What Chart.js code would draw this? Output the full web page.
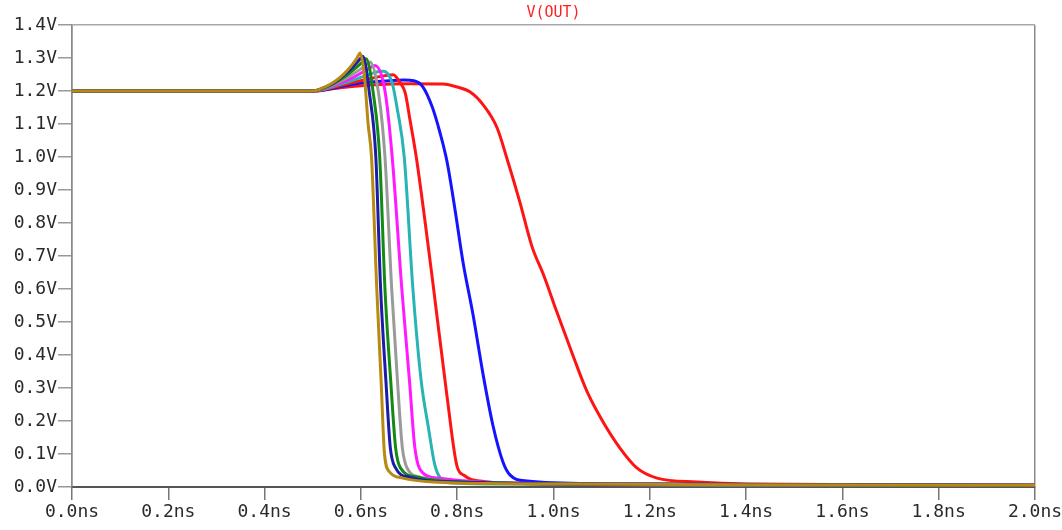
<!DOCTYPE html>
<html>
<head>
<meta charset="utf-8">
<script src="https://cdn.jsdelivr.net/npm/chart.js@4.4.1/dist/chart.umd.min.js"></script>
<style>
  html, body { margin: 0; padding: 0; background: #fff; }
  #wrap { width: 1062px; height: 530px; }
</style>
</head>
<body>
<div id="wrap"><canvas id="vout" width="1062" height="530"></canvas></div>
<script>
// V(OUT) transient, one trace per step (time in ns, voltage in V)
const tGold = [0, 0.5, 0.525, 0.545, 0.565, 0.582, 0.592, 0.598, 0.607, 0.615, 0.622, 0.633, 0.642, 0.649, 0.66, 0.687, 0.75, 0.9, 1.4, 2.0];
const vGold = [1.2, 1.2, 1.212, 1.228, 1.252, 1.28, 1.3, 1.315, 1.25, 1.1, 1.0, 0.6, 0.32, 0.1, 0.045, 0.027, 0.015, 0.01, 0.007, 0.005];

const tNavy = [0, 0.5, 0.525, 0.545, 0.565, 0.585, 0.597, 0.604, 0.618, 0.631, 0.641, 0.652, 0.661, 0.672, 0.7, 0.8, 1.2, 2.0];
const vNavy = [1.2, 1.2, 1.211, 1.226, 1.248, 1.275, 1.295, 1.305, 1.19, 1.0, 0.6, 0.32, 0.12, 0.058, 0.03, 0.015, 0.008, 0.005];

const tGreen = [0, 0.5, 0.525, 0.545, 0.57, 0.592, 0.605, 0.611, 0.626, 0.639, 0.65, 0.662, 0.672, 0.682, 0.717, 0.8, 1.2, 2.0];
const vGreen = [1.2, 1.2, 1.21, 1.224, 1.247, 1.273, 1.29, 1.298, 1.19, 1.0, 0.6, 0.32, 0.12, 0.058, 0.03, 0.016, 0.008, 0.005];

const tGray = [0, 0.5, 0.525, 0.545, 0.575, 0.6, 0.613, 0.619, 0.637, 0.65, 0.664, 0.676, 0.686, 0.698, 0.723, 0.8, 1.2, 2.0];
const vGray = [1.2, 1.2, 1.209, 1.221, 1.243, 1.267, 1.282, 1.288, 1.19, 1.0, 0.6, 0.32, 0.12, 0.052, 0.03, 0.016, 0.008, 0.005];

const tMagenta = [0, 0.5, 0.525, 0.545, 0.58, 0.607, 0.622, 0.629, 0.65, 0.665, 0.685, 0.701, 0.712, 0.729, 0.758, 0.85, 1.2, 2.0];
const vMagenta = [1.2, 1.2, 1.208, 1.218, 1.238, 1.26, 1.273, 1.277, 1.2, 1.0, 0.6, 0.32, 0.12, 0.042, 0.027, 0.015, 0.008, 0.005];

const tCyan = [0, 0.5, 0.525, 0.545, 0.585, 0.62, 0.638, 0.647, 0.665, 0.675, 0.69, 0.708, 0.725, 0.741, 0.753, 0.764, 0.795, 0.9, 1.3, 2.0];
const vCyan = [1.2, 1.2, 1.206, 1.215, 1.233, 1.252, 1.259, 1.26, 1.224, 1.15, 1.0, 0.6, 0.324, 0.173, 0.07, 0.03, 0.012, 0.009, 0.006, 0.005];

const tRedMid = [0, 0.5, 0.525, 0.545, 0.59, 0.63, 0.655, 0.667, 0.681, 0.692, 0.702, 0.715, 0.748, 0.779, 0.8, 0.815, 0.833, 0.95, 1.4, 2.0];
const vRedMid = [1.2, 1.2, 1.205, 1.212, 1.228, 1.241, 1.248, 1.249, 1.226, 1.194, 1.112, 1.0, 0.636, 0.273, 0.061, 0.035, 0.021, 0.01, 0.006, 0.005];

const tBlue = [0, 0.5, 0.525, 0.557, 0.6, 0.65, 0.69, 0.71, 0.729, 0.748, 0.764, 0.779, 0.795, 0.812, 0.833, 0.854, 0.874, 0.895, 0.91, 0.945, 1.1, 2.0];
const vBlue = [1.2, 1.2, 1.204, 1.213, 1.224, 1.23, 1.233, 1.231, 1.212, 1.152, 1.075, 0.985, 0.845, 0.682, 0.521, 0.339, 0.188, 0.076, 0.036, 0.018, 0.01, 0.005];

const tRedSlow = [0, 0.5, 0.525, 0.557, 0.62, 0.7, 0.77, 0.8, 0.827, 0.854, 0.883, 0.903, 0.93, 0.955, 0.98, 1.007, 1.04, 1.07, 1.103, 1.138, 1.173, 1.215, 1.298, 1.402, 2.0];
const vRedSlow = [1.2, 1.2, 1.203, 1.21, 1.218, 1.222, 1.221, 1.212, 1.197, 1.158, 1.088, 0.997, 0.864, 0.73, 0.64, 0.53, 0.40, 0.288, 0.197, 0.118, 0.058, 0.027, 0.015, 0.009, 0.005];

const xTicksNs = [0, 0.2, 0.4, 0.6, 0.8, 1.0, 1.2, 1.4, 1.6, 1.8, 2.0];
const yTicksV = [0, 0.1, 0.2, 0.3, 0.4, 0.5, 0.6, 0.7, 0.8, 0.9, 1.0, 1.1, 1.2, 1.3, 1.4];

// first entry ends up on top (chart.js draws dataset 0 last)
const traces = [
    { t: tGold, v: vGold, color: '#b88a12' },
    { t: tNavy, v: vNavy, color: '#1c1ca8' },
    { t: tGreen, v: vGreen, color: '#138a13' },
    { t: tGray, v: vGray, color: '#9a9a9a' },
    { t: tMagenta, v: vMagenta, color: '#ff1aff' },
    { t: tCyan, v: vCyan, color: '#28b4b4' },
    { t: tRedMid, v: vRedMid, color: '#ff1414' },
    { t: tBlue, v: vBlue, color: '#1414ff' },
    { t: tRedSlow, v: vRedSlow, color: '#ff1414' }
];

const tickFont = { family: "'DejaVu Sans Mono', monospace", size: 18 };
const isEdge = (val, lo, hi) => Math.abs(val - lo) < 1e-6 || Math.abs(val - hi) < 1e-6;

// trace title drawn over the middle of the plot area, like the simulator does
const traceTitle = {
    id: 'traceTitle',
    afterDraw(chart) {
        const { ctx, chartArea } = chart;
        ctx.save();
        ctx.font = "15px 'DejaVu Sans Mono', monospace";
        ctx.fillStyle = '#ff2020';
        ctx.textAlign = 'center';
        ctx.textBaseline = 'middle';
        ctx.fillText('V(OUT)', (chartArea.left + chartArea.right) / 2, 13);
        ctx.restore();
    }
};

new Chart(document.getElementById('vout').getContext('2d'), {
    type: 'line',
    data: {
        datasets: traces.map(tr => ({
            data: tr.t.map((t, i) => ({ x: t, y: tr.v[i] })),
            borderColor: tr.color,
            borderWidth: 3,
            pointRadius: 0,
            fill: false,
            cubicInterpolationMode: 'monotone'
        }))
    },
    options: {
        responsive: false,
        animation: false,
        devicePixelRatio: 1,
        layout: { padding: { top: 25, right: 27, left: 0, bottom: 0 } },
        plugins: {
            legend: { display: false },
            tooltip: { enabled: false },
            title: { display: false }
        },
        scales: {
            x: {
                type: 'linear',
                min: 0,
                max: 2,
                afterBuildTicks: s => { s.ticks = xTicksNs.map(v => ({ value: v })); },
                afterFit: s => { s.height = 43; s.paddingRight = 0; s.paddingLeft = 0; },
                ticks: {
                    callback: v => v.toFixed(1) + 'ns',
                    font: tickFont,
                    color: '#2a2a2a',
                    maxRotation: 0,
                    autoSkip: false,
                    padding: 2
                },
                grid: {
                    color: c => isEdge(c.tick.value, 0, 2) ? '#8a8a8a' : 'rgba(0,0,0,0)',
                    tickColor: '#777',
                    tickLength: 13,
                    lineWidth: 1.5
                },
                border: { color: '#555', width: 2 }
            },
            y: {
                min: 0,
                max: 1.4,
                afterBuildTicks: s => { s.ticks = yTicksV.map(v => ({ value: v })); },
                afterFit: s => { s.width = 72; },
                ticks: {
                    callback: v => v.toFixed(1) + 'V',
                    font: tickFont,
                    color: '#2a2a2a',
                    autoSkip: false,
                    padding: 1
                },
                grid: {
                    color: c => isEdge(c.tick.value, 1.4, 1.4) ? '#a8a8a8' : 'rgba(0,0,0,0)',
                    tickColor: '#999',
                    tickLength: 14,
                    lineWidth: 1.5
                },
                border: { color: '#8a8a8a', width: 1.5 }
            }
        }
    },
    plugins: [traceTitle]
});
</script>
</body>
</html>
